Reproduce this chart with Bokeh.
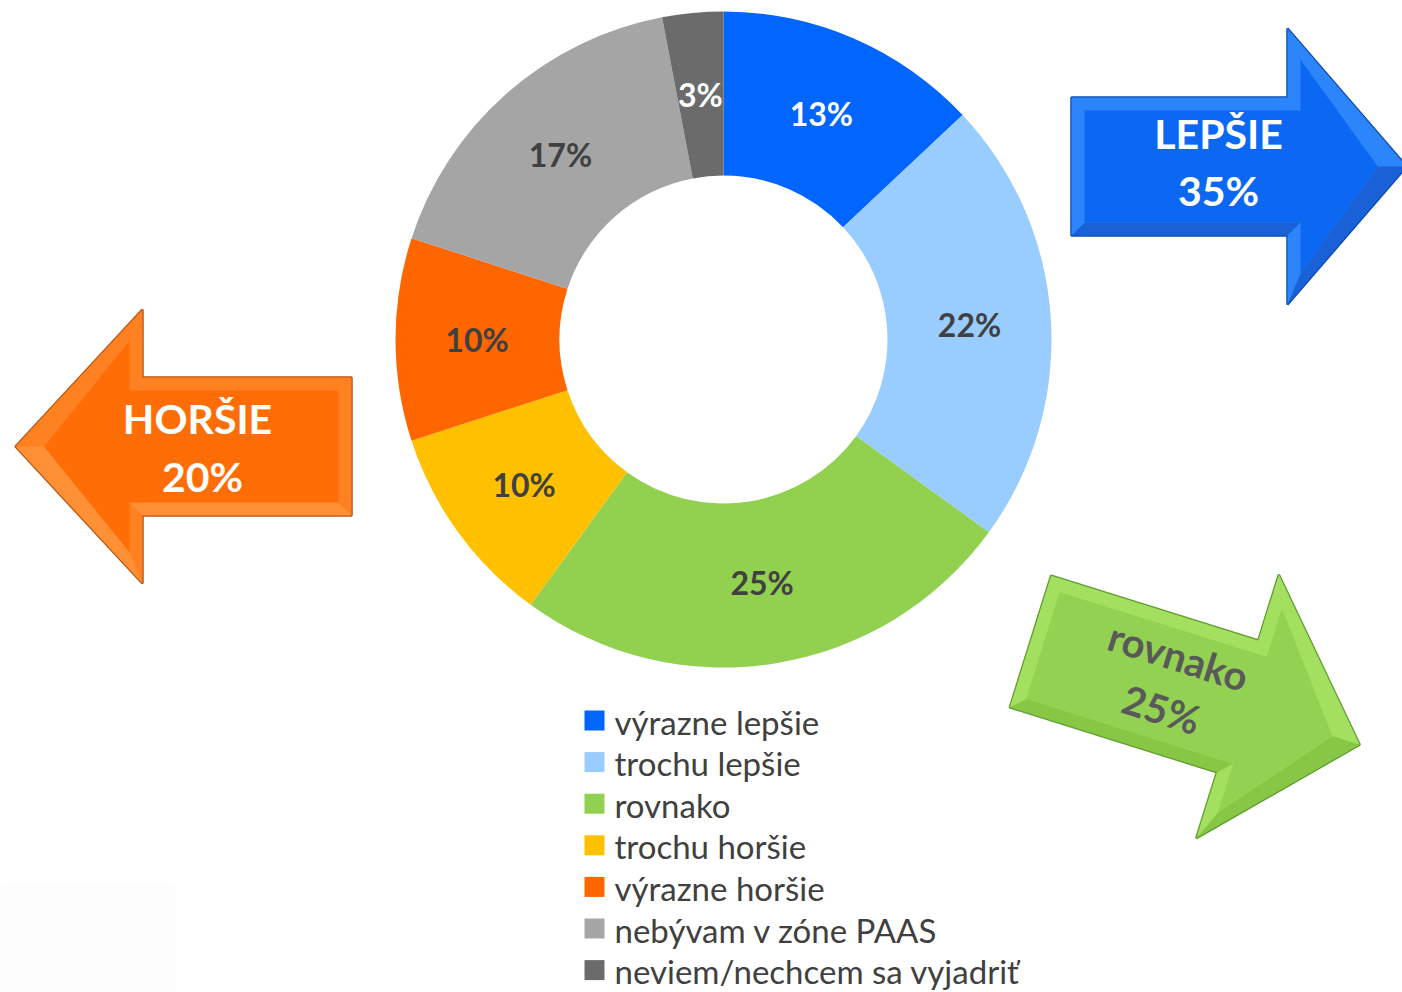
import numpy as np
from bokeh.plotting import figure
from bokeh.models import Range1d, ColumnDataSource
from bokeh.core.properties import value
from bokeh.embed import file_html
from bokeh.resources import INLINE

# ---------------- data ----------------
categories = ["výrazne lepšie", "trochu lepšie", "rovnako", "trochu horšie",
              "výrazne horšie", "nebývam v zóne PAAS", "neviem/nechcem sa vyjadriť"]
shares = [13, 22, 25, 10, 10, 17, 3]
colors = ["#0066FF", "#99CCFF", "#92D050", "#FFC000", "#FF6600", "#A5A5A5", "#6B6B6B"]
label_colors = ["#FFFFFF", "#404040", "#404040", "#404040", "#404040", "#404040", "#FFFFFF"]

summary_names = ["LEPŠIE", "HORŠIE", "rovnako"]
summary_values = [35, 20, 25]

FONT = value("Lato")
W, H = 1402, 992

def Y(y_img):
    return 992 - np.asarray(y_img, dtype=float)

p = figure(width=W, height=H, x_range=Range1d(0, W), y_range=Range1d(0, H),
           output_backend="svg", toolbar_location=None, min_border=0)
p.axis.visible = False
p.grid.visible = False
p.outline_line_color = None
p.background_fill_color = "white"
p.border_fill_color = "white"

# faint logo box bottom-left
p.quad(left=[0], right=[175], bottom=Y([992]), top=Y([883]), fill_color="#FDFDFD", line_color=None)

# ---------------- donut ----------------
cx, cy = 723, Y(339)
r_out, r_in = 328, 164
fr = np.array(shares, dtype=float) / sum(shares)
c1 = np.cumsum(fr)
c0 = c1 - fr
start = np.pi / 2 - 2 * np.pi * c1
end = np.pi / 2 - 2 * np.pi * c0
src = ColumnDataSource(dict(start=start, end=end, color=colors))
p.annular_wedge(x=cx, y=cy, inner_radius=r_in, outer_radius=r_out,
                start_angle="start", end_angle="end", direction="anticlock",
                fill_color="color", line_color=None, source=src)

mid = (start + end) / 2
r_lab = (r_in + r_out) / 2 + 0.5
lsrc = ColumnDataSource(dict(x=cx + r_lab * np.cos(mid), y=cy + r_lab * np.sin(mid),
                             t=[f"{s}%" for s in shares], c=label_colors))
p.text(x="x", y="y", text="t", text_color="c", source=lsrc, text_font=FONT,
       text_font_style="bold", text_font_size="32px", text_align="center",
       text_baseline="middle")

# ---------------- legend ----------------
n = len(categories)
leg_y = Y(720 + 41.6 * np.arange(n))
p.rect(x=[594] * n, y=leg_y, width=20, height=20, fill_color=colors, line_color=None)
p.text(x=[614] * n, y=leg_y - 1, text=categories, text_color="#404040", text_font=FONT,
       text_font_size="33px", text_align="left", text_baseline="middle")

# ---------------- arrows ----------------
def arrow_pts(x0, y0, ang, L, Hh, s, h, d=0.0):
    if d == 0:
        pts = [(0, -s), (L, -s), (L, -h), (L + Hh, 0), (L, h), (L, s), (0, s)]
    else:
        pts = [(d, -s + d), (L + d, -s + d), (L + d, -h + 2.4 * d), (L + Hh - 2.2 * d, 0),
               (L + d, h - 2.4 * d), (L + d, s - d), (d, s - d)]
    a = np.radians(ang)
    xs = [x0 + u * np.cos(a) - v * np.sin(a) for u, v in pts]
    ys = [y0 + u * np.sin(a) + v * np.cos(a) for u, v in pts]
    return np.array(xs), Y(ys)

def draw_arrow(x0, y0, ang, L, Hh, s, h, face, bevel, edge, bevel2):
    ox, oy = arrow_pts(x0, y0, ang, L, Hh, s, h)
    ix, iy = arrow_pts(x0, y0, ang, L, Hh, s, h, d=13)
    p.patch(ox, oy, fill_color=bevel, line_color=edge, line_width=2.5)
    fx, fy, fc = [], [], []
    m = len(ox)
    for i in range(m):
        j = (i + 1) % m
        fx.append([ox[i], ox[j], ix[j], ix[i]])
        fy.append([oy[i], oy[j], iy[j], iy[i]])
        ex, ey = ox[j] - ox[i], oy[j] - oy[i]
        ny = -ex
        fc.append(bevel2 if ny > 0 else bevel)
    p.patches(fx, fy, fill_color=fc, line_color=None)
    p.patch(ix, iy, fill_color=face, line_color=None)

draw_arrow(1071, 166, 0, 216, 119, 69, 138, "#0C68F2", "#2C85FA", "#0A4CB0", "#1A60D6")
draw_arrow(351, 446, 180, 209, 127, 69, 137, "#FF6E06", "#FF8122", "#B9530F", "#FF9036")
draw_arrow(1030, 641, 17.4, 217, 128, 69, 138, "#93D152", "#A4E060", "#5E9C2C", "#88C646")

# arrow texts
p.text(x=[1218, 1218], y=Y([133, 190]), text=[summary_names[0], f"{summary_values[0]}%"],
       text_color="white", text_font=FONT, text_font_style="bold", text_font_size="41px",
       text_align="center", text_baseline="middle")
p.text(x=[197, 202], y=Y([418, 476]), text=[summary_names[1], f"{summary_values[1]}%"],
       text_color="white", text_font=FONT, text_font_style="bold", text_font_size="41px",
       text_align="center", text_baseline="middle")
p.text(x=[1178, 1161], y=Y([656, 709]), text=[summary_names[2], f"{summary_values[2]}%"],
       angle=-np.radians(17.4), text_color="#595959", text_font=FONT, text_font_style="bold",
       text_font_size="40px", text_align="center", text_baseline="middle")

open("out.html", "w").write(file_html(p, INLINE))
